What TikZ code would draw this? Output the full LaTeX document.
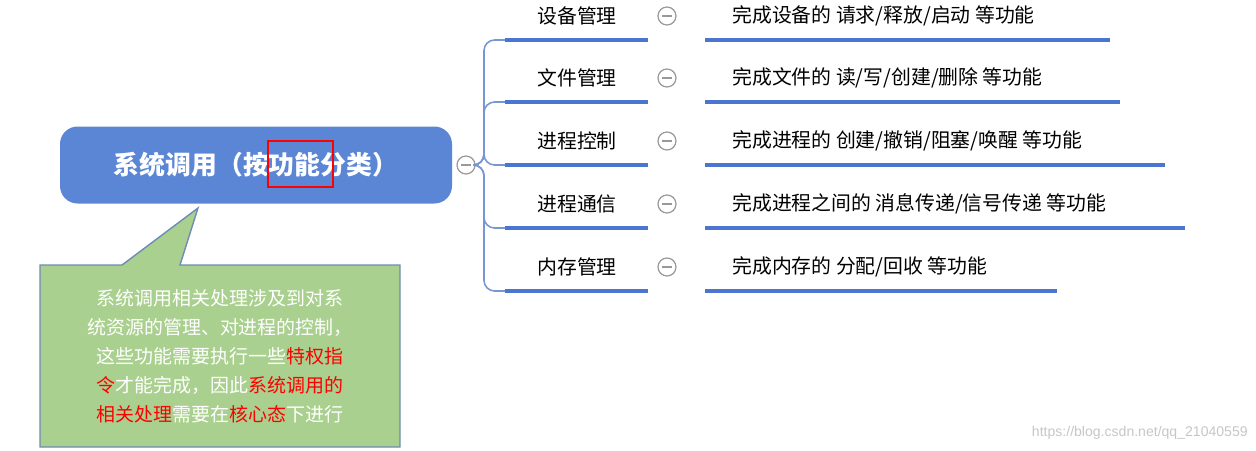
\documentclass[tikz,border=0pt]{standalone}
\usepackage{fontspec}
\setmainfont{Liberation Sans}
\newfontfamily\cjk{Noto Sans CJK SC}
\begin{document}
\begin{tikzpicture}[x=0.02cm,y=-0.02cm,
  lbl/.style={font=\cjk\fontsize{11.3}{13}\selectfont,text=black,inner sep=0pt},
  uline/.style={color={rgb,255:red,74;green,118;blue,210},line width=2.3pt},
  conn/.style={draw={rgb,255:red,120;green,150;blue,210},line width=0.9pt,rounded corners=6},
  tog/.style={circle,draw=gray!80,line width=0.7pt,minimum size=0.36cm,inner sep=0pt,fill=white}]
\useasboundingbox (0,0) rectangle (1256,450);
\definecolor{mainblue}{RGB}{91,134,214}
\definecolor{callg}{RGB}{169,208,142}
% main node
\node[fill=mainblue,rounded corners=10,minimum width=392*0.02cm,minimum height=77*0.02cm,inner sep=0pt,
  font=\cjk\bfseries\fontsize{14.7}{17}\selectfont,text=white] (main) at (256,165) {系统调用（按功能分类）};
\draw[red,line width=1pt] (268,141) rectangle (333,187);
\node[tog] (t0) at (466,165) {};
\draw[gray!80,line width=0.7pt] (461,165) -- (471,165);
% branches
\foreach \i/\y/\lt/\rt/\re in {1/16/设备管理/{完成设备的 请求/释放/启动 等功能}/1110,
   2/78/文件管理/{完成文件的 读/写/创建/删除 等功能}/1120,
   3/141/进程控制/{完成进程的 创建/撤销/阻塞/唤醒 等功能}/1165,
   4/204/进程通信/{完成进程之间的 消息传递/信号传递 等功能}/1185,
   5/267/内存管理/{完成内存的 分配/回收 等功能}/1057}{
  \pgfmathsetmacro{\u}{\y+24}
  \coordinate (ls\i) at (505,\u);
  \coordinate (le\i) at (648,\u);
  \coordinate (rs\i) at (705,\u);
  \coordinate (re\i) at (\re,\u);
  \node[lbl] (l\i) at (577,\y) {\lt};
  \node[lbl,anchor=west] (r\i) at (732,\y) {\rt};
  \node[tog] (c\i) at (667,\y) {};
  \draw[gray!80,line width=0.7pt] (662,\y) -- (672,\y);
  \draw[uline] (ls\i) -- (le\i);
  \draw[uline] (rs\i) -- (re\i);
  \draw[conn] (t0.east) -| (484,\u) -- (ls\i);
}
% callout
\draw[draw={rgb,255:red,110;green,140;blue,180},fill=callg,line width=0.8pt]
  (40,265) -- (122,265) -- (198,208) -- (180,265) -- (400,265) -- (400,447) -- (40,447) -- cycle;
\node[align=center,font=\cjk\fontsize{10.8}{16.5}\selectfont,text=white,inner sep=0pt] (callout) at (220,356)
 {系统调用相关处理涉及到对系\\统资源的管理、对进程的控制，\\这些功能需要执行一些\textcolor{red}{特权指}\\\textcolor{red}{令}才能完成，因此\textcolor{red}{系统调用的}\\\textcolor{red}{相关处理}需要在\textcolor{red}{核心态}下进行};
\node[anchor=east,text=gray!45,font=\fontsize{8}{9}\selectfont,inner sep=0pt] (wm) at (1248,433) {https://blog.csdn.net/qq\_21040559};
\end{tikzpicture}
\end{document}
